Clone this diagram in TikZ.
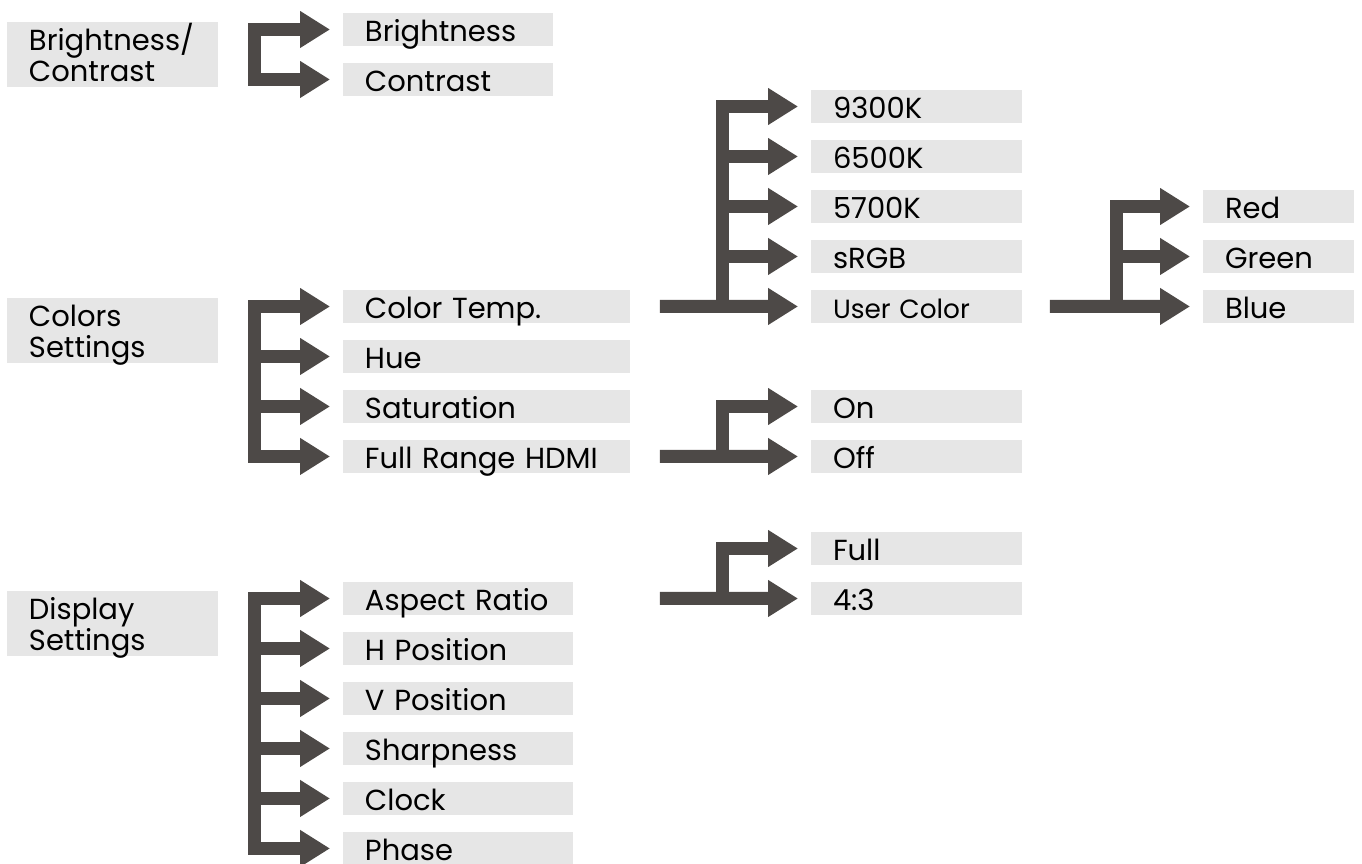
\documentclass[tikz,border=0pt]{standalone}
\usepackage{fontspec}
\setmainfont{Poppins}
\usepackage{tikz}
\usetikzlibrary{arrows.meta, positioning}
\definecolor{boxgray}{HTML}{E6E6E6}
\definecolor{arrowgray}{HTML}{4D4947}
\newcommand{\itemfont}{\fontsize{16.5}{17.6}\selectfont}
\newcommand{\smallitemfont}{\fontsize{15}{16}\selectfont}
\tikzset{
  item/.style={rectangle, fill=boxgray, text width=#1, align=left,
               inner xsep=0.44cm, inner ysep=0pt, outer sep=0pt,
               text height=0.58cm, text depth=0.08cm, font=\itemfont},
  head/.style={item=3.34cm, text depth=0.72cm},
  bar/.style={draw=arrowgray, line width=0.26cm, line cap=rect},
  arm/.style={draw=arrowgray, line width=0.26cm, shorten >=0.26cm,
              -{Triangle[length=0.6cm, width=0.7cm]}},
}

\begin{document}
\begin{tikzpicture}[x=0.02cm, y=-0.02cm]
  \useasboundingbox (0,0) rectangle (1362,864);

  % main menu
  \node[head, anchor=north west] (bc)  at (7,22)  {Brightness/\\Contrast};
  \node[head, anchor=north west] (cs)  at (7,298) {Colors\\Settings};
  \node[head, anchor=north west] (dsp) at (7,591) {Display\\Settings};

  % sub menus
  \node[item=3.32cm, anchor=north west] (bri) at (343,13) {Brightness};
  \node[item=3.32cm, below=0.34cm of bri] (con) {Contrast};

  \node[item=4.86cm, anchor=north west] (ctemp) at (343,290) {Color Temp.};
  \node[item=4.86cm, below=0.34cm of ctemp] (hue)  {Hue};
  \node[item=4.86cm, below=0.34cm of hue]   (sat)  {Saturation};
  \node[item=4.86cm, below=0.34cm of sat]   (hdmi) {Full Range HDMI};

  \node[item=3.72cm, anchor=north west] (aspect) at (343,582) {Aspect Ratio};
  \node[item=3.72cm, below=0.34cm of aspect] (hpos)  {H Position};
  \node[item=3.72cm, below=0.34cm of hpos]   (vpos)  {V Position};
  \node[item=3.72cm, below=0.34cm of vpos]   (sharp) {Sharpness};
  \node[item=3.72cm, below=0.34cm of sharp]  (clock) {Clock};
  \node[item=3.72cm, below=0.34cm of clock]  (phase) {Phase};

  % options
  \node[item=3.34cm, anchor=north west] (k93) at (811,90) {9300K};
  \node[item=3.34cm, below=0.34cm of k93]  (k65)  {6500K};
  \node[item=3.34cm, below=0.34cm of k65]  (k57)  {5700K};
  \node[item=3.34cm, below=0.34cm of k57]  (srgb) {sRGB};
  \node[item=3.34cm, below=0.34cm of srgb, font=\smallitemfont] (user) {User Color};

  \node[item=3.34cm, anchor=north west] (on) at (811,390) {On};
  \node[item=3.34cm, below=0.34cm of on] (off) {Off};

  \node[item=3.34cm, anchor=north west] (full) at (811,532) {Full};
  \node[item=3.34cm, below=0.34cm of full] (r43) {4:3};

  \node[item=2.14cm, anchor=north west] (red) at (1203,190) {Red};
  \node[item=2.14cm, below=0.34cm of red]   (green) {Green};
  \node[item=2.14cm, below=0.34cm of green] (blue)  {Blue};

  % free ends of the feeding lines
  \coordinate[right=0.6cm of ctemp.east]   (ctemp-out);
  \coordinate[right=0.6cm of hdmi.east]    (hdmi-out);
  \coordinate[right=1.74cm of aspect.east] (aspect-out);
  \coordinate[right=0.56cm of user.east]   (user-out);

  % brightness/contrast
  \draw[bar] ([xshift=-1.78cm]bri.west) -- ([xshift=-1.78cm]con.west);
  \draw[arm] ([xshift=-1.78cm]bri.west) -- (bri.west);
  \draw[arm] ([xshift=-1.78cm]con.west) -- (con.west);

  % colors settings
  \draw[bar] ([xshift=-1.78cm]ctemp.west) -- ([xshift=-1.78cm]hdmi.west);
  \draw[arm] ([xshift=-1.78cm]ctemp.west) -- (ctemp.west);
  \draw[arm] ([xshift=-1.78cm]hue.west) -- (hue.west);
  \draw[arm] ([xshift=-1.78cm]sat.west) -- (sat.west);
  \draw[arm] ([xshift=-1.78cm]hdmi.west) -- (hdmi.west);

  % display settings
  \draw[bar] ([xshift=-1.78cm]aspect.west) -- ([xshift=-1.78cm]phase.west);
  \draw[arm] ([xshift=-1.78cm]aspect.west) -- (aspect.west);
  \draw[arm] ([xshift=-1.78cm]hpos.west) -- (hpos.west);
  \draw[arm] ([xshift=-1.78cm]vpos.west) -- (vpos.west);
  \draw[arm] ([xshift=-1.78cm]sharp.west) -- (sharp.west);
  \draw[arm] ([xshift=-1.78cm]clock.west) -- (clock.west);
  \draw[arm] ([xshift=-1.78cm]phase.west) -- (phase.west);

  % color temp.
  \draw[arm] (ctemp-out) -- (user.west);
  \draw[bar] ([xshift=-1.78cm]k93.west) -- ([xshift=-1.78cm]user.west);
  \draw[arm] ([xshift=-1.78cm]k93.west) -- (k93.west);
  \draw[arm] ([xshift=-1.78cm]k65.west) -- (k65.west);
  \draw[arm] ([xshift=-1.78cm]k57.west) -- (k57.west);
  \draw[arm] ([xshift=-1.78cm]srgb.west) -- (srgb.west);

  % full range hdmi
  \draw[arm] (hdmi-out) -- (off.west);
  \draw[bar] ([xshift=-1.78cm]on.west) -- ([xshift=-1.78cm]off.west);
  \draw[arm] ([xshift=-1.78cm]on.west) -- (on.west);

  % aspect ratio
  \draw[arm] (aspect-out) -- (r43.west);
  \draw[bar] ([xshift=-1.78cm]full.west) -- ([xshift=-1.78cm]r43.west);
  \draw[arm] ([xshift=-1.78cm]full.west) -- (full.west);

  % user color
  \draw[arm] (user-out) -- (blue.west);
  \draw[bar] ([xshift=-1.73cm]red.west) -- ([xshift=-1.73cm]blue.west);
  \draw[arm] ([xshift=-1.73cm]red.west) -- (red.west);
  \draw[arm] ([xshift=-1.73cm]green.west) -- (green.west);
\end{tikzpicture}
\end{document}
